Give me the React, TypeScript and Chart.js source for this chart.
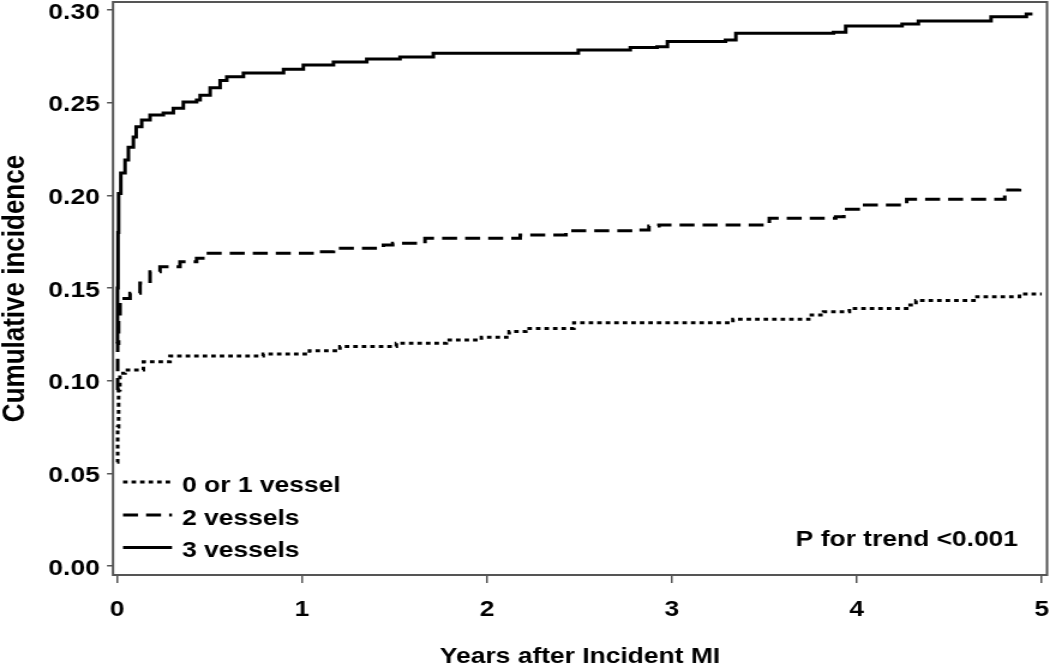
import React, { useEffect, useRef } from 'react';
import { Chart, registerables } from 'chart.js';

Chart.register(...registerables);

// ---- data ----
const seriesLabels = ['0 or 1 vessel', '2 vessels', '3 vessels'];
const xTicks = [0, 1, 2, 3, 4, 5];
const yTicks = [0, 0.05, 0.1, 0.15, 0.2, 0.25, 0.3];
const xTitle = 'Years after Incident MI';
const yTitle = 'Cumulative incidence';
const pText = 'P for trend <0.001';

const t01 = [0, 0.003, 0.008, 0.015, 0.043, 0.142, 0.286, 0.79, 1.04, 1.205, 1.51, 1.78, 1.97, 2.12, 2.21, 2.47, 3.33, 3.74, 3.82, 3.96, 4.27, 4.32, 4.65, 4.88, 5.0];
const v01 = [0.056, 0.075, 0.095, 0.104, 0.1058, 0.1102, 0.1133, 0.1144, 0.1162, 0.1184, 0.1202, 0.122, 0.1234, 0.1265, 0.1282, 0.1313, 0.1331, 0.1354, 0.1372, 0.139, 0.1408, 0.1432, 0.1453, 0.1467, 0.1467];

const t2 = [0, 0.003, 0.008, 0.016, 0.07, 0.124, 0.178, 0.232, 0.34, 0.43, 0.484, 1.08, 1.17, 1.44, 1.49, 1.665, 2.18, 2.427, 2.786, 2.876, 2.93, 3.527, 3.886, 3.93, 4.02, 4.27, 4.8, 4.88];
const v2 = [0.095, 0.12, 0.135, 0.1444, 0.1472, 0.1527, 0.1588, 0.1615, 0.1642, 0.166, 0.1687, 0.1696, 0.1714, 0.1732, 0.1741, 0.1768, 0.1786, 0.1809, 0.1813, 0.1835, 0.184, 0.1876, 0.1885, 0.1925, 0.1948, 0.1979, 0.2029, 0.2065];

const t3 = [0, 0.002, 0.005, 0.008, 0.02, 0.043, 0.061, 0.088, 0.103, 0.133, 0.178, 0.25, 0.304, 0.358, 0.43, 0.449, 0.503, 0.557, 0.593, 0.683, 0.9, 1.007, 1.17, 1.35, 1.53, 1.71, 2.494, 2.775, 2.92, 2.976, 3.29, 3.346, 3.874, 3.94, 4.245, 4.333, 4.726, 4.917, 4.95];
const v3 = [0.12, 0.15, 0.18, 0.201, 0.212, 0.219, 0.226, 0.2315, 0.237, 0.2407, 0.2434, 0.2444, 0.247, 0.2504, 0.2515, 0.254, 0.258, 0.262, 0.264, 0.266, 0.268, 0.2703, 0.272, 0.2736, 0.2746, 0.2766, 0.2784, 0.2797, 0.2802, 0.283, 0.2838, 0.2874, 0.288, 0.2914, 0.2924, 0.294, 0.2964, 0.2978, 0.2978];

// ---- layout (canvas is drawn narrower and stretched horizontally) ----
const SX = 1.2;
const W = 1050;
const H = 670;
const IW = W / SX;
const FONT_FAMILY = '"Liberation Sans", Arial, Helvetica, sans-serif';
const INK = '#000';
const FRAME = '#555';

const dashes: number[][] = [[3.8, 3.3], [12.5, 6.7], []];

const toPoints = (t: number[], v: number[]) => t.map((x, i) => ({ x, y: v[i] }));

const overlayPlugin = {
  id: 'overlay',
  afterDraw(chart: any) {
    const ctx = chart.ctx as CanvasRenderingContext2D;
    const { left, top, right, bottom } = chart.chartArea;
    ctx.save();
    ctx.strokeStyle = FRAME;
    ctx.lineWidth = 2;
    ctx.setLineDash([]);
    ctx.strokeRect(left, top, right - left, bottom - top);

    // legend inside plot
    const rows = [485.5, 518.5, 551];
    const x0 = 123 / SX;
    const x1 = 172 / SX;
    const tx = 182 / SX;
    ctx.font = `700 22px ${FONT_FAMILY}`;
    ctx.textBaseline = 'middle';
    ctx.textAlign = 'left';
    chart.data.datasets.forEach((ds: any, i: number) => {
      const y = rows[i];
      ctx.strokeStyle = INK;
      ctx.lineWidth = 3;
      ctx.lineCap = 'butt';
      ctx.setLineDash(ds.borderDash || []);
      ctx.beginPath();
      ctx.moveTo(x0, y - 3.5);
      ctx.lineTo(x1, y - 3.5);
      ctx.stroke();
      ctx.setLineDash([]);
      ctx.fillStyle = INK;
      ctx.fillText(ds.label, tx, y);
    });

    // p-value annotation
    ctx.textAlign = 'right';
    ctx.fillText(pText, 1018 / SX, 539.5);
    ctx.restore();
  },
};

export default function App() {
  const ref = useRef<HTMLCanvasElement | null>(null);

  useEffect(() => {
    const canvas = ref.current;
    if (!canvas) return;
    const tickFont = { family: FONT_FAMILY, size: 22, weight: 'bold' as const };
    const chart = new Chart(canvas, {
      type: 'line',
      data: {
        datasets: [
          { label: seriesLabels[0], data: toPoints(t01, v01), borderDash: dashes[0] },
          { label: seriesLabels[1], data: toPoints(t2, v2), borderDash: dashes[1] },
          { label: seriesLabels[2], data: toPoints(t3, v3), borderDash: dashes[2] },
        ].map((d) => ({
          ...d,
          borderColor: INK,
          backgroundColor: INK,
          borderWidth: 3,
          pointRadius: 0,
          pointHoverRadius: 0,
          stepped: 'before' as const,
          fill: false,
          tension: 0,
          borderCapStyle: 'butt' as const,
        })),
      },
      options: {
        responsive: false,
        animation: false,
        devicePixelRatio: 1,
        layout: { padding: { left: 0, right: IW - 1047 / SX, top: 2, bottom: 0 } },
        plugins: {
          legend: { display: false },
          tooltip: { enabled: false },
        },
        events: [],
        scales: {
          x: {
            type: 'linear',
            min: -0.0222,
            max: 5.0287,
            afterBuildTicks: (s: any) => {
              s.ticks = xTicks.map((value) => ({ value }));
            },
            afterFit: (s: any) => {
              s.height = H - 575;
              s.paddingLeft = 0;
              s.paddingRight = 0;
            },
            ticks: {
              font: tickFont,
              color: INK,
              padding: 14,
              maxRotation: 0,
              autoSkip: false,
              callback: (v: any) => String(v),
            },
            grid: {
              drawOnChartArea: false,
              drawTicks: true,
              tickLength: 8,
              color: FRAME,
              lineWidth: 1.5,
            },
            border: { display: false },
            title: {
              display: true,
              text: xTitle,
              font: tickFont,
              color: INK,
              padding: { top: 0, bottom: 0 },
            },
          },
          y: {
            type: 'linear',
            min: -0.004856,
            max: 0.304317,
            afterBuildTicks: (s: any) => {
              s.ticks = yTicks.map((value) => ({ value }));
            },
            afterFit: (s: any) => {
              s.width = 113 / SX;
              s.paddingTop = 0;
              s.paddingBottom = 0;
            },
            ticks: {
              font: tickFont,
              color: INK,
              padding: 6,
              labelOffset: 2.5,
              autoSkip: false,
              callback: (v: any) => Number(v).toFixed(2),
            },
            grid: {
              drawOnChartArea: false,
              drawTicks: true,
              tickLength: 5,
              color: FRAME,
              lineWidth: 1.5,
            },
            border: { display: false },
            title: {
              display: true,
              text: yTitle,
              font: { family: FONT_FAMILY, size: 26, weight: 'bold', lineHeight: 1 },
              color: INK,
              padding: { top: 0, bottom: 0 },
            },
          },
        },
      },
      plugins: [overlayPlugin],
    });
    canvas.style.width = `${W}px`;
    canvas.style.height = `${H}px`;
    return () => chart.destroy();
  }, []);

  return (
    <div style={{ position: 'absolute', left: 0, top: 0, width: W, height: H, background: '#fff', overflow: 'hidden' }}>
      <canvas ref={ref} width={IW} height={H} style={{ width: `${W}px`, height: `${H}px`, display: 'block' }} />
    </div>
  );
}
